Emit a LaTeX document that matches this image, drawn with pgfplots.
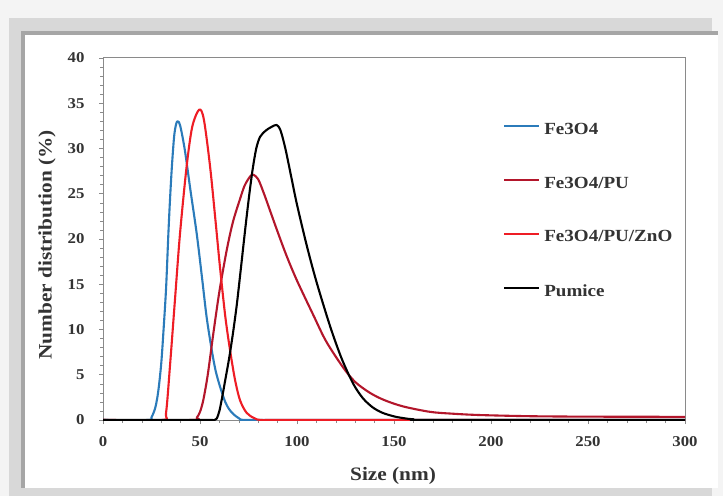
\documentclass[border=0pt]{standalone}
\usepackage{fontspec}
\usepackage{pgfplots}
\pgfplotsset{compat=1.18}
\newfontfamily\chartfont{Liberation Serif}[FakeStretch=1.12]

\definecolor{fethree}{HTML}{2B7BBA}
\definecolor{fepu}{HTML}{B3162B}
\definecolor{fepuzno}{HTML}{EE1D25}
\definecolor{pagepale}{HTML}{F4F4F4}
\definecolor{framegray}{HTML}{D8D8D8}
\definecolor{framedark}{HTML}{A6A6A6}
\definecolor{axisgray}{HTML}{8A8A8A}

\begin{document}
\begin{tikzpicture}[x=1pt,y=1pt]
% mounting frame behind the chart
\fill[pagepale] (0,0) rectangle (723,496);
\fill[framegray] (9,0) rectangle (712,478);
\fill[framedark] (21,8) rectangle (718,465);
\fill[white] (25,8) rectangle (718,461);

\begin{axis}[
  at={(103pt,76pt)}, anchor=south west,
  scale only axis, width=582pt, height=362pt,
  xmin=0, xmax=300, ymin=0, ymax=40,
  xtick={0,50,...,300}, ytick={0,5,...,40},
  minor x tick num=4, minor y tick num=4,
  tick align=outside, xtick pos=left, ytick pos=left,
  major tick length=4pt, minor tick length=3pt,
  axis line style={axisgray, line width=1pt},
  every tick/.style={axisgray, line width=0.6pt},
  /pgf/number format/assume math mode=true,
  tick label style={font=\chartfont\bfseries\fontsize{15}{15}\selectfont, text=black!80},
  xticklabel style={yshift=-9pt},
  yticklabel style={xshift=-11pt},
  xlabel={Size (nm)}, ylabel={Number distribution (\%)},
  every axis x label/.style={at={(axis description cs:0.4983,-0.1547)}, anchor=center,
    font=\chartfont\bfseries\fontsize{19}{19}\selectfont, text=black!80},
  every axis y label/.style={at={(axis description cs:-0.0962,0.4834)}, anchor=center, rotate=90,
    font=\chartfont\bfseries\fontsize{19}{19}\selectfont, text=black!80},
  legend style={at={(axis description cs:0.682,0.832)}, anchor=north west,
    draw=none, fill=none, row sep=37pt, column sep=2pt,
    font=\chartfont\bfseries\fontsize{17}{17}\selectfont, text=black!80},
  legend cell align=left,
  legend image code/.code={\draw[#1, line width=2.2pt] (0pt,0.3em) -- (35pt,0.3em);},
  every axis plot/.append style={line width=2.1pt, smooth, line join=round},
]
\addplot[fethree] coordinates {
  (0,0) (23,0) (25,0.3) (27,1.4) (28.5,3.2) (30,6.2) (31.1,9.6) (32.5,14.5)
  (33.7,20.6) (34.6,24.6) (35.6,28.3) (36.8,31.6) (38.2,33.0) (39.8,32.5)
  (42.2,29.8) (45,25.5) (48.3,20.6) (51,15.8) (53.4,11.4) (56,7.8) (58,5.5)
  (60.3,3.7) (63,2.0) (65,1.2) (67.2,0.65) (70,0.2) (73,0) (90,0) (300,0)
};
\addlegendentry{Fe3O4}
\addplot[fepu] coordinates {
  (0,0) (46,0) (48.3,0.25) (50,0.9) (51.7,2.2) (54,5) (56.9,9.6) (60,14.2)
  (63.8,18.8) (67,21.9) (70.6,24.4) (73,25.9) (75.8,26.9) (77.5,27.1)
  (80,26.6) (83,25) (86,23.2) (90,20.8) (94.7,18.1) (100,15.4) (108.4,11.6)
  (115,8.7) (123.8,5.8) (130,4.2) (137.6,3.0) (145,2.2) (154.7,1.5)
  (168.6,0.9) (180,0.7) (194,0.55) (220,0.42) (250,0.37) (300,0.35)
};
\addlegendentry{Fe3O4/PU}
\addplot[fepuzno] coordinates {
  (0,0) (30.5,0) (32.5,0.8) (34.5,5.9) (37.1,13.3) (39.7,20.6) (43.1,28)
  (46,32.4) (49.6,34.3) (52,33.2) (55.2,28) (58,22) (60.3,16.9) (63,11.5)
  (65.5,7.7) (68,4.5) (70.6,2.2) (74,0.8) (78,0.2) (82,0) (100,0) (300,0)
};
\addlegendentry{Fe3O4/PU/ZnO}
\addplot[black] coordinates {
  (0,0) (40,0) (55,0) (57.5,0) (58.6,0.15) (60,1.0) (61.5,2.6) (63,4.4)
  (65,6.8) (67,9.6) (69,12.8) (71,16.6) (73,20.5) (75,24.2) (77,27.5)
  (79,30.0) (81,31.3) (84,32.0) (87,32.4) (89.5,32.6) (91.5,32.0) (94,30.0)
  (97,26.9) (100,23.8) (105,19.3) (110,15.3) (117,10.4) (123,6.8) (129,4.0)
  (134,2.4) (139,1.4) (144,0.8) (150,0.4) (155,0.2) (160,0.08) (170,0) (300,0)
};
\addlegendentry{Pumice}
\end{axis}
\pgfresetboundingbox
\useasboundingbox (0,0) rectangle (723,496);
\end{tikzpicture}
\end{document}
